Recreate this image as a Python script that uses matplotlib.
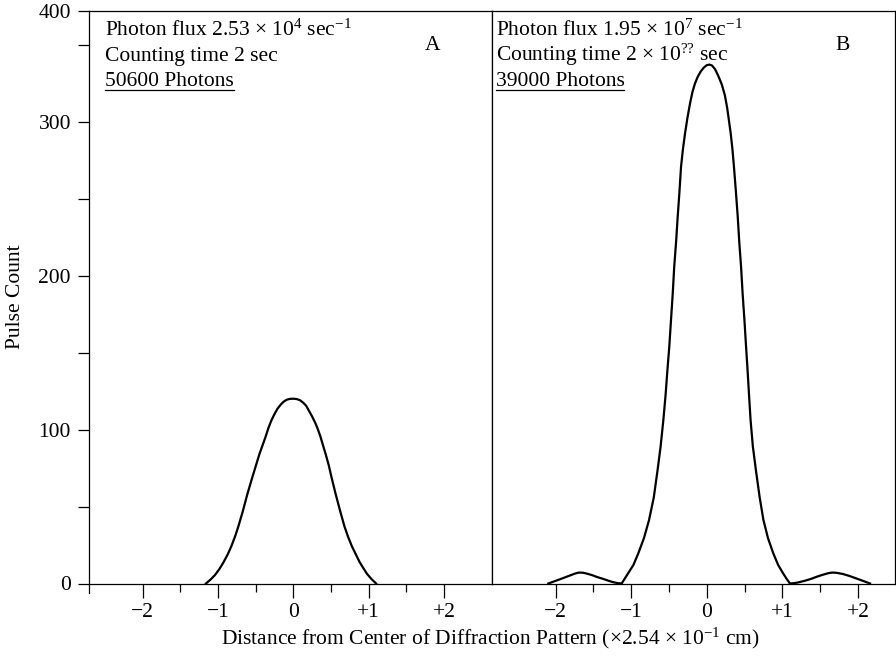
import matplotlib
matplotlib.use("Agg")
import matplotlib.pyplot as plt
from matplotlib.lines import Line2D
from matplotlib.ticker import FixedLocator

plt.rcParams["font.family"] = ["Liberation Serif", "DejaVu Serif"]
plt.rcParams["mathtext.fontset"] = "custom"
plt.rcParams["mathtext.rm"] = "Liberation Serif"
plt.rcParams["mathtext.it"] = "Liberation Serif:italic"
plt.rcParams["mathtext.bf"] = "Liberation Serif:bold"

# ---- data (x in units of 2.54e-1 cm) ----
a_x = [-1.16, -1.10, -1.04, -0.98, -0.93, -0.87, -0.82, -0.77, -0.73, -0.67,
       -0.61, -0.55, -0.50, -0.45, -0.41, -0.37, -0.33, -0.29, -0.25, -0.21,
       -0.17, -0.13, -0.09, -0.045, 0.0, 0.045, 0.09, 0.13, 0.17, 0.21,
       0.25, 0.29, 0.32, 0.36, 0.39, 0.43, 0.47, 0.51, 0.56, 0.62,
       0.68, 0.73, 0.78, 0.83, 0.88, 0.93, 0.98, 1.04, 1.10]
a_y = [0, 2.5, 5.5, 9.5, 13.5, 19, 24.5, 31, 37, 47,
       58, 68, 76, 84, 89.5, 95, 101, 106, 110, 113.5,
       116, 118, 119.3, 119.9, 120, 119.8, 119, 117.5, 115.5, 112,
       108.5, 104.5, 101, 95.5, 90.5, 84, 77, 68.5, 58.6, 47.5,
       37, 30, 24, 19, 14, 10, 6.2, 2.8, 0]

b_x = [-2.095, -2.0, -1.9, -1.82, -1.75, -1.71, -1.685, -1.64, -1.6, -1.52,
       -1.45, -1.37, -1.3, -1.24, -1.18, -1.125, -1.08, -1.04, -0.97, -0.905,
       -0.83, -0.763, -0.70, -0.65, -0.61, -0.574, -0.545, -0.52, -0.495, -0.474,
       -0.45, -0.43, -0.405, -0.384, -0.36, -0.34, -0.315, -0.287, -0.255, -0.22,
       -0.19, -0.155, -0.12, -0.08, -0.04, 0.0, 0.035, 0.07, 0.11, 0.15,
       0.2, 0.24, 0.27, 0.29, 0.317, 0.34, 0.36, 0.385, 0.41, 0.43,
       0.454, 0.475, 0.50, 0.52, 0.54, 0.56, 0.58, 0.61, 0.65, 0.70,
       0.75, 0.81, 0.88, 0.945, 1.01, 1.05, 1.10, 1.15, 1.2, 1.3,
       1.38, 1.45, 1.53, 1.6, 1.64, 1.675, 1.72, 1.8, 1.88, 1.95,
       2.05, 2.16]
b_y = [0, 1.7, 3.5, 5.0, 6.3, 6.9, 7.1, 7.0, 6.6, 5.5,
       4.2, 3.0, 1.8, 0.9, 0.25, 0, 3.5, 6.6, 12, 19.6,
       29.5, 41.2, 56, 73.7, 89, 106, 122, 138.6, 154, 170,
       188, 205.7, 222, 238.2, 255, 270.6, 282, 292.3, 302.5, 312,
       319, 324.8, 329, 332.5, 335, 336.6, 337, 336.4, 334, 330,
       324, 317, 309, 302, 292.3, 282, 270.6, 255, 238.2, 222,
       205.7, 188, 170, 154, 138.6, 122, 106, 89, 73.7, 56,
       41.2, 29.5, 19.6, 12, 6.6, 3.5, 0, 0.2, 0.6, 1.8,
       3.0, 4.3, 5.6, 6.6, 7.0, 7.1, 6.9, 6.2, 5.0, 3.8,
       2.0, 0]

x_major = [-2, -1, 0, 1, 2]
x_major_labels = ["\u22122", "\u22121", "0", "+1", "+2"]
x_minor = [-1.5, -0.5, 0.5, 1.5]
y_major = [0, 100, 200, 300, 371.8]   # top of box is drawn as 400 (broken scale)
y_major_labels = ["0", "100", "200", "300", "400"]
y_minor = [50, 150, 250, 350]

text_a = ["Photon flux 2.53 \u00d7 10$^{4}$ sec$^{-1}$",
          "Counting time 2 sec",
          "50600 Photons"]
text_b = ["Photon flux 1.95 \u00d7 10$^{7}$ sec$^{-1}$",
          "Counting time 2 \u00d7 10$^{??}$ sec",
          "39000 Photons"]

FS = 15.5
W, H = 896, 656
fig = plt.figure(figsize=(W / 100, H / 100), dpi=100)
left, right, bottom, top = 89 / W, 895 / W, 1 - 583.5 / H, 1 - 11 / H
pw = (right - left) / 2
axA = fig.add_axes([left, bottom, pw, top - bottom])
axB = fig.add_axes([left + pw, bottom, pw, top - bottom])

axA.plot(a_x, a_y, color="black", lw=1.6, solid_joinstyle="round")
axB.plot(b_x, b_y, color="black", lw=1.6, solid_joinstyle="round")
axA.set_xlim(-2.713, 2.639)
axB.set_xlim(-2.84, 2.49)

for ax in (axA, axB):
    ax.set_ylim(0, 371.8)
    for s in ax.spines.values():
        s.set_linewidth(0.9)
    ax.set_xticks(x_major)
    ax.set_xticklabels(x_major_labels)
    ax.xaxis.set_minor_locator(FixedLocator(x_minor))
    ax.tick_params(axis="x", which="major", direction="out", length=10,
                   width=0.9, labelsize=FS, pad=4)
    ax.tick_params(axis="x", which="minor", direction="out", length=6,
                   width=0.9)

axA.set_yticks(y_major)
axA.set_yticklabels(y_major_labels)
axA.yaxis.set_minor_locator(FixedLocator(y_minor))
axA.tick_params(axis="y", which="both", direction="out", length=8,
                width=0.9, labelsize=FS, pad=5)
axB.set_yticks([])
axB.tick_params(axis="y", which="minor", length=0)

# left spine runs a little below the baseline
axA.add_line(Line2D([0, 0], [-0.016, 0], transform=axA.transAxes,
                    color="black", lw=0.9, clip_on=False))

# annotations
base_y = [(583.5 - 36) / 572.5, (583.5 - 61) / 572.5, (583.5 - 86) / 572.5]
under = []
for ax, lines, x0 in ((axA, text_a, (105 - 89) / 403), (axB, text_b, 3.5 / 403)):
    for i, s in enumerate(lines):
        t = ax.text(x0, base_y[i], s, transform=ax.transAxes, fontsize=FS,
                    ha="left", va="baseline")
    under.append((ax, t, x0, base_y[2]))

axA.text((433 - 89) / 403, (583.5 - 46) / 572.5, "A", transform=axA.transAxes,
         fontsize=FS, ha="center", va="center")
axB.text((843 - 492) / 403, (583.5 - 46) / 572.5, "B", transform=axB.transAxes,
         fontsize=FS, ha="center", va="center")

fig.text(15 / W, 1 - 297 / H, "Pulse Count", rotation=90, fontsize=FS,
         ha="center", va="center")
fig.text(490 / W, 1 - 638 / H,
         "Distance from Center of Diffraction Pattern (\u00d72.54 \u00d7 10$^{-1}$ cm)",
         fontsize=FS, ha="center", va="center")

# underline the photon totals
fig.canvas.draw()
r = fig.canvas.get_renderer()
for ax, t, x0, by in under:
    bb = t.get_window_extent(renderer=r)
    _, ydisp = ax.transAxes.transform((x0, by))
    y_u = ydisp - 3.5
    p0 = fig.transFigure.inverted().transform((bb.x0, y_u))
    p1 = fig.transFigure.inverted().transform((bb.x1, y_u))
    fig.add_artist(Line2D([p0[0], p1[0]], [p0[1], p1[1]],
                          transform=fig.transFigure, color="black", lw=0.9))

fig.savefig("out.png", dpi=100)
